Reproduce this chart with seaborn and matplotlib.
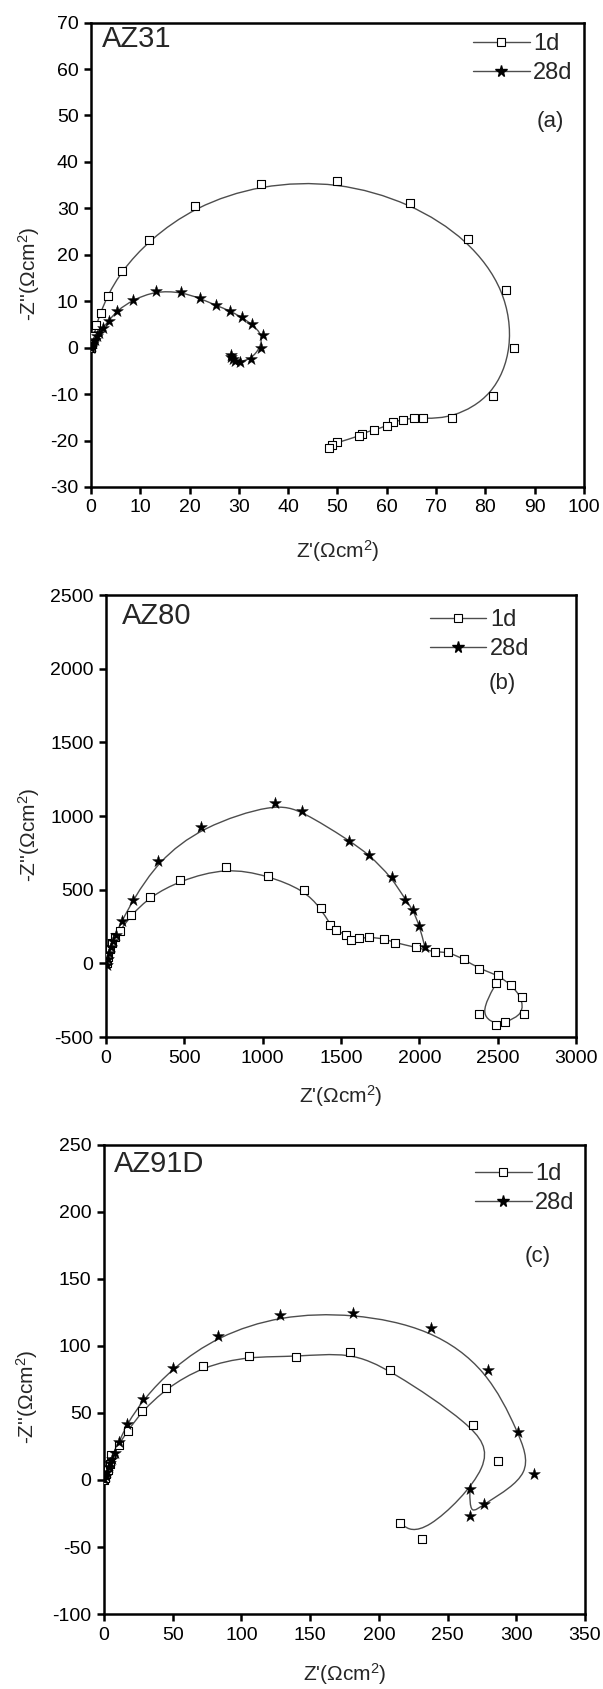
import numpy as np
import matplotlib
matplotlib.use("Agg")
from matplotlib import pyplot as plt
from matplotlib.path import Path
from matplotlib.patches import PathPatch
from matplotlib.lines import Line2D
import seaborn as sns

sns.set_style("ticks")
plt.rcParams['font.family'] = ['Liberation Sans', 'DejaVu Sans']
plt.rcParams['mathtext.fontset'] = 'custom'
plt.rcParams['mathtext.rm'] = 'Liberation Sans'
plt.rcParams['mathtext.it'] = 'Liberation Sans:italic'
plt.rcParams['axes.unicode_minus'] = False

# ---- data ----
# (a) AZ31
az31_1d_x = [0.0, 0.3, 0.6, 1.1, 1.95, 3.35, 6.2, 11.8, 21.1, 34.4, 50.0, 64.8, 76.5, 84.1, 85.7, 81.6,
             73.3, 67.4, 65.5, 63.2, 61.3, 60.1, 57.5, 54.9, 54.3, 50.0, 48.8, 48.2]
az31_1d_y = [0.0, 0.8, 2.5, 4.9, 7.5, 11.2, 16.5, 23.2, 30.4, 35.2, 35.8, 31.2, 23.3, 12.5, 0.0, -10.5,
             -15.2, -15.2, -15.2, -15.5, -16.0, -16.8, -17.7, -18.5, -19.1, -20.4, -21.0, -21.6]
az31_28d_x = [0.0, 0.2, 0.5, 0.8, 1.2, 1.6, 2.4, 3.6, 5.3, 8.5, 13.1, 18.2, 22.2, 25.3, 28.1, 30.6,
              32.7, 34.8, 34.4, 32.5, 30.2, 29.2, 28.8, 28.4, 28.3]
az31_28d_y = [0.0, 0.3, 0.9, 1.7, 2.5, 3.2, 4.2, 5.8, 8.0, 10.3, 12.2, 12.0, 10.6, 9.1, 8.0, 6.5,
              5.0, 2.8, 0.0, -2.4, -3.1, -2.9, -2.5, -2.0, -1.6]

# (b) AZ80
az80_1d_x = [5, 15, 25, 38, 55, 91, 160, 280, 474, 768, 1031, 1262, 1372, 1431, 1468, 1534, 1564, 1618,
             1679, 1777, 1844, 1981, 2097, 2183, 2283, 2384, 2504, 2583, 2654, 2666, 2548, 2487, 2382, 2492]
az80_1d_y = [0, 45, 95, 140, 180, 222, 326, 452, 563, 651, 596, 499, 373, 261, 224, 193, 162, 169,
             179, 167, 140, 109, 75, 79, 29, -37, -81, -144, -229, -345, -400, -415, -345, -132]
az80_28d_x = [5, 15, 22, 32, 44, 61, 101, 172, 331, 609, 1080, 1252, 1554, 1679, 1824, 1910, 1959, 2001, 2035]
az80_28d_y = [-10, 30, 70, 110, 150, 190, 287, 428, 692, 927, 1090, 1034, 833, 738, 583, 433, 365, 254, 113]

# (c) AZ91D
az91_1d_x = [0.3, 0.8, 1.7, 2.8, 4.2, 5.3, 10.6, 17.4, 27.7, 45.1, 72.0, 105.4, 139.8, 178.8, 208.2,
             268.2, 286.9, 231.2, 215.5]
az91_1d_y = [0.0, 1.8, 4.6, 7.4, 11.6, 18.6, 26.2, 36.9, 51.2, 68.3, 84.8, 92.4, 91.8, 95.7, 82.3,
             41.1, 13.9, -44.0, -32.2]
az91_28d_x = [0.3, 1.1, 2.2, 3.4, 4.6, 5.9, 7.8, 10.9, 16.8, 28.6, 49.9, 82.9, 128.3, 181.0, 237.9,
              279.1, 301.5, 313.0, 276.3, 266.2, 266.2]
az91_28d_y = [0.4, 3.2, 6.0, 9.4, 12.5, 15.8, 20.0, 28.4, 41.9, 60.1, 83.7, 107.5, 122.9, 124.6, 113.1,
              82.3, 35.5, 4.3, -17.6, -26.8, -6.6]

panel_names = ["AZ31", "AZ80", "AZ91D"]
panel_tags = ["(a)", "(b)", "(c)"]
series_labels = ["1d", "28d"]

LINE_C = '#4d4d4d'


def bspline_path(xs, ys):
    """Cubic B-spline (Origin style) through the points used as control points."""
    pts = np.column_stack([xs, ys]).astype(float)
    pts = np.vstack([pts[:1], pts[:1], pts, pts[-1:], pts[-1:]])
    verts, codes = [], []
    for i in range(len(pts) - 3):
        q0, q1, q2, q3 = pts[i:i + 4]
        b0 = (q0 + 4 * q1 + q2) / 6
        b1 = (4 * q1 + 2 * q2) / 6
        b2 = (2 * q1 + 4 * q2) / 6
        b3 = (q1 + 4 * q2 + q3) / 6
        if i == 0:
            verts.append(b0)
            codes.append(Path.MOVETO)
        verts += [b1, b2, b3]
        codes += [Path.CURVE4] * 3
    return Path(verts, codes)


fig = plt.figure(figsize=(6.03, 16.89), dpi=100)

panels = [
    dict(rect=[0.1509, 0.7117, 0.8176, 0.2749], d1=(az31_1d_x, az31_1d_y), d28=(az31_28d_x, az31_28d_y),
         xlim=(0, 100), xstep=10, ylim=(-30, 70), ystep=10,
         leg=(0.775, 0.977), tag=(0.931, 0.788), name=(0.022, 0.995), ylab=(-0.099, 0.459), xlab=-0.11),
    dict(rect=[0.1758, 0.3860, 0.7794, 0.2617], d1=(az80_1d_x, az80_1d_y), d28=(az80_28d_x, az80_28d_y),
         xlim=(0, 3000), xstep=500, ylim=(-500, 2500), ystep=500,
         leg=(0.689, 0.968), tag=(0.843, 0.80), name=(0.034, 0.985), ylab=(-0.136, 0.457), xlab=-0.104),
    dict(rect=[0.1725, 0.0444, 0.7977, 0.2777], d1=(az91_1d_x, az91_1d_y), d28=(az91_28d_x, az91_28d_y),
         xlim=(0, 350), xstep=50, ylim=(-100, 250), ystep=50,
         leg=(0.771, 0.962), tag=(0.902, 0.763), name=(0.021, 0.99), ylab=(-0.133, 0.464), xlab=-0.1),
]

for p, name, tag in zip(panels, panel_names, panel_tags):
    ax = fig.add_axes(p['rect'])

    # smooth connecting lines
    for xs, ys in (p['d1'], p['d28']):
        ax.add_patch(PathPatch(bspline_path(xs, ys), facecolor='none', edgecolor=LINE_C, lw=1.0, zorder=2))

    sns.scatterplot(x=p['d1'][0], y=p['d1'][1], marker='s', s=30, color='white',
                    edgecolor='black', linewidth=0.8, ax=ax, zorder=3)
    sns.scatterplot(x=p['d28'][0], y=p['d28'][1], marker='*', s=80, color='black',
                    edgecolor='black', linewidth=0.3, ax=ax, zorder=3)

    ax.set_xlim(*p['xlim'])
    ax.set_ylim(*p['ylim'])
    ax.set_xticks(np.arange(p['xlim'][0], p['xlim'][1] + 1, p['xstep']))
    ax.set_yticks(np.arange(p['ylim'][0], p['ylim'][1] + 1, p['ystep']))
    ax.tick_params(axis='both', direction='out', length=5, width=1.8, labelsize=14, pad=4,
                   colors='black', top=False, right=False)
    for sp in ax.spines.values():
        sp.set_visible(True)
        sp.set_linewidth(1.8)
        sp.set_color('black')

    ax.set_xlabel("Z'(\u03A9cm$^{2}$)", fontsize=15)
    ax.set_ylabel("-Z''(\u03A9cm$^{2}$)", fontsize=15)
    ax.xaxis.set_label_coords(0.5, p['xlab'])
    ax.yaxis.set_label_coords(*p['ylab'])

    ax.text(p['name'][0], p['name'][1], name, transform=ax.transAxes, fontsize=21,
            ha='left', va='top')
    ax.text(p['tag'][0], p['tag'][1], tag, transform=ax.transAxes, fontsize=16,
            ha='center', va='center')

    handles = [
        Line2D([], [], color=LINE_C, lw=1.0, marker='s', markersize=5.5,
               markerfacecolor='white', markeredgecolor='black', markeredgewidth=0.8),
        Line2D([], [], color=LINE_C, lw=1.0, marker='*', markersize=8.5,
               markerfacecolor='black', markeredgecolor='black'),
    ]
    ax.legend(handles, series_labels, loc='upper left', bbox_to_anchor=p['leg'], frameon=False,
              fontsize=17, handlelength=2.4, handletextpad=0.15, labelspacing=0.3,
              borderpad=0, borderaxespad=0, numpoints=1)

plt.savefig('out.png', dpi=100)
